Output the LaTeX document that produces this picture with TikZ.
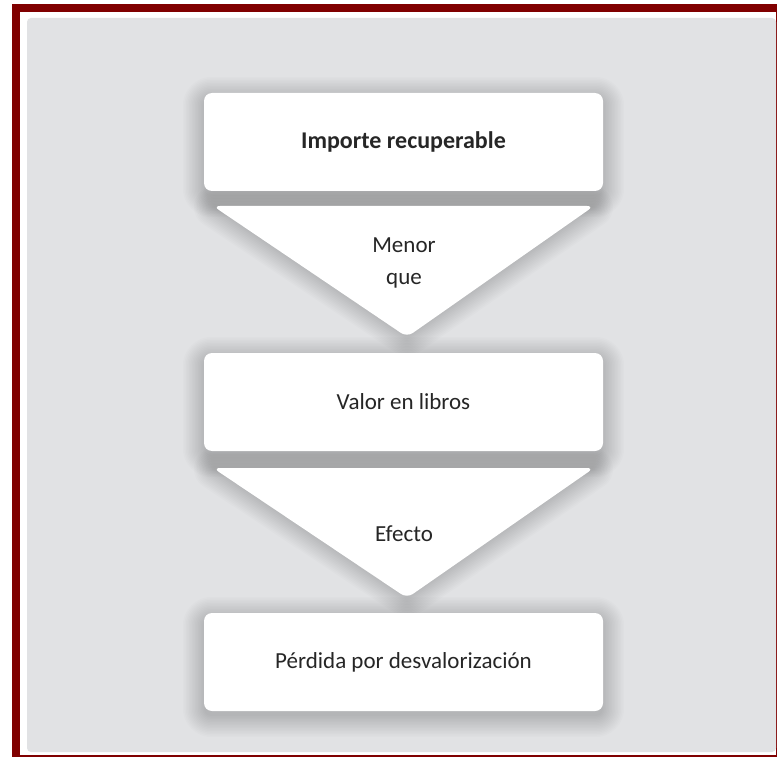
\documentclass[tikz,border=0pt]{standalone}
\usepackage{fontspec}
\setmainfont{Carlito}
\usetikzlibrary{calc}
\definecolor{framered}{HTML}{800000}
\definecolor{panelgray}{HTML}{E1E2E4}
\definecolor{txt}{HTML}{262626}
\tikzset{
  card/.style={fill=white, rounded corners=8pt, minimum width=399pt, minimum height=98pt, inner sep=0pt, text=txt, font=\fontsize{23}{28}\selectfont},
  tri/.style={fill=white, rounded corners=7pt},
  trilabel/.style={text=txt, font=\fontsize{23}{32}\selectfont, align=center, inner sep=0pt},
  shadowlayer/.style={fill=black, fill opacity=0.011},
  shadowstroke/.style={draw=black, draw opacity=0.011, line join=round}
}
% soft shadow of a card node, built from stacked translucent layers
\newcommand{\cardshade}[1]{%
  \foreach \d in {0,1.5,...,21}{%
    \fill[shadowlayer, rounded corners=8pt+\d pt]
      ($(#1.south west)+(-\d pt,-\d pt-5pt)$) rectangle ($(#1.north east)+(\d pt,\d pt-5pt)$);
  }%
}
% soft shadow of a triangle, built from stacked translucent strokes
\newcommand{\trishade}[3]{%
  \foreach \d in {1.5,3,...,21}{%
    \draw[shadowstroke, line width=2*\d pt, yshift=-4pt]
      (#1) -- (#2) -- (#3) -- cycle;
  }%
}
\begin{document}
\begin{tikzpicture}[x=1pt,y=1pt]
\useasboundingbox (0,0) rectangle (777,-757);
\clip (0,0) rectangle (777,-757);
\fill[white] (0,0) rectangle (777,-757);
\draw[framered, line width=8pt] (16,-8) rectangle (780,-759);
\fill[panelgray, rounded corners=4pt] (27,-18) rectangle (776,-752);
% geometry
\coordinate (t1a) at (215,-207); \coordinate (t1b) at (592,-207); \coordinate (t1c) at (407,-335);
\coordinate (t2a) at (215,-469); \coordinate (t2b) at (592,-469); \coordinate (t2c) at (407,-596);
% shadows (drawn first)
\path (403.5,-142) node[card, fill=none] (imp0) {};
\path (403.5,-402) node[card, fill=none] (valor0) {};
\path (403.5,-662) node[card, fill=none] (perdida0) {};
\cardshade{imp0}
\cardshade{valor0}
\cardshade{perdida0}
\trishade{t1a}{t1b}{t1c}
\trishade{t2a}{t2b}{t2c}
% shapes
\node[card, font=\fontsize{24}{28}\selectfont\bfseries] (imp) at (403.5,-142) {Importe recuperable};
\path[tri] (213,-206) -- (594,-206) -- (407,-337) -- cycle;
\node[trilabel] (menor) at (404,-263) {Menor\\que};
\node[card] (valor) at (403.5,-402) {Valor en libros};
\path[tri] (213,-468) -- (594,-468) -- (407,-598) -- cycle;
\node[trilabel] (efecto) at (404,-534) {Efecto};
\node[card] (perdida) at (403.5,-662) {Pérdida por desvalorización};
\end{tikzpicture}
\end{document}
